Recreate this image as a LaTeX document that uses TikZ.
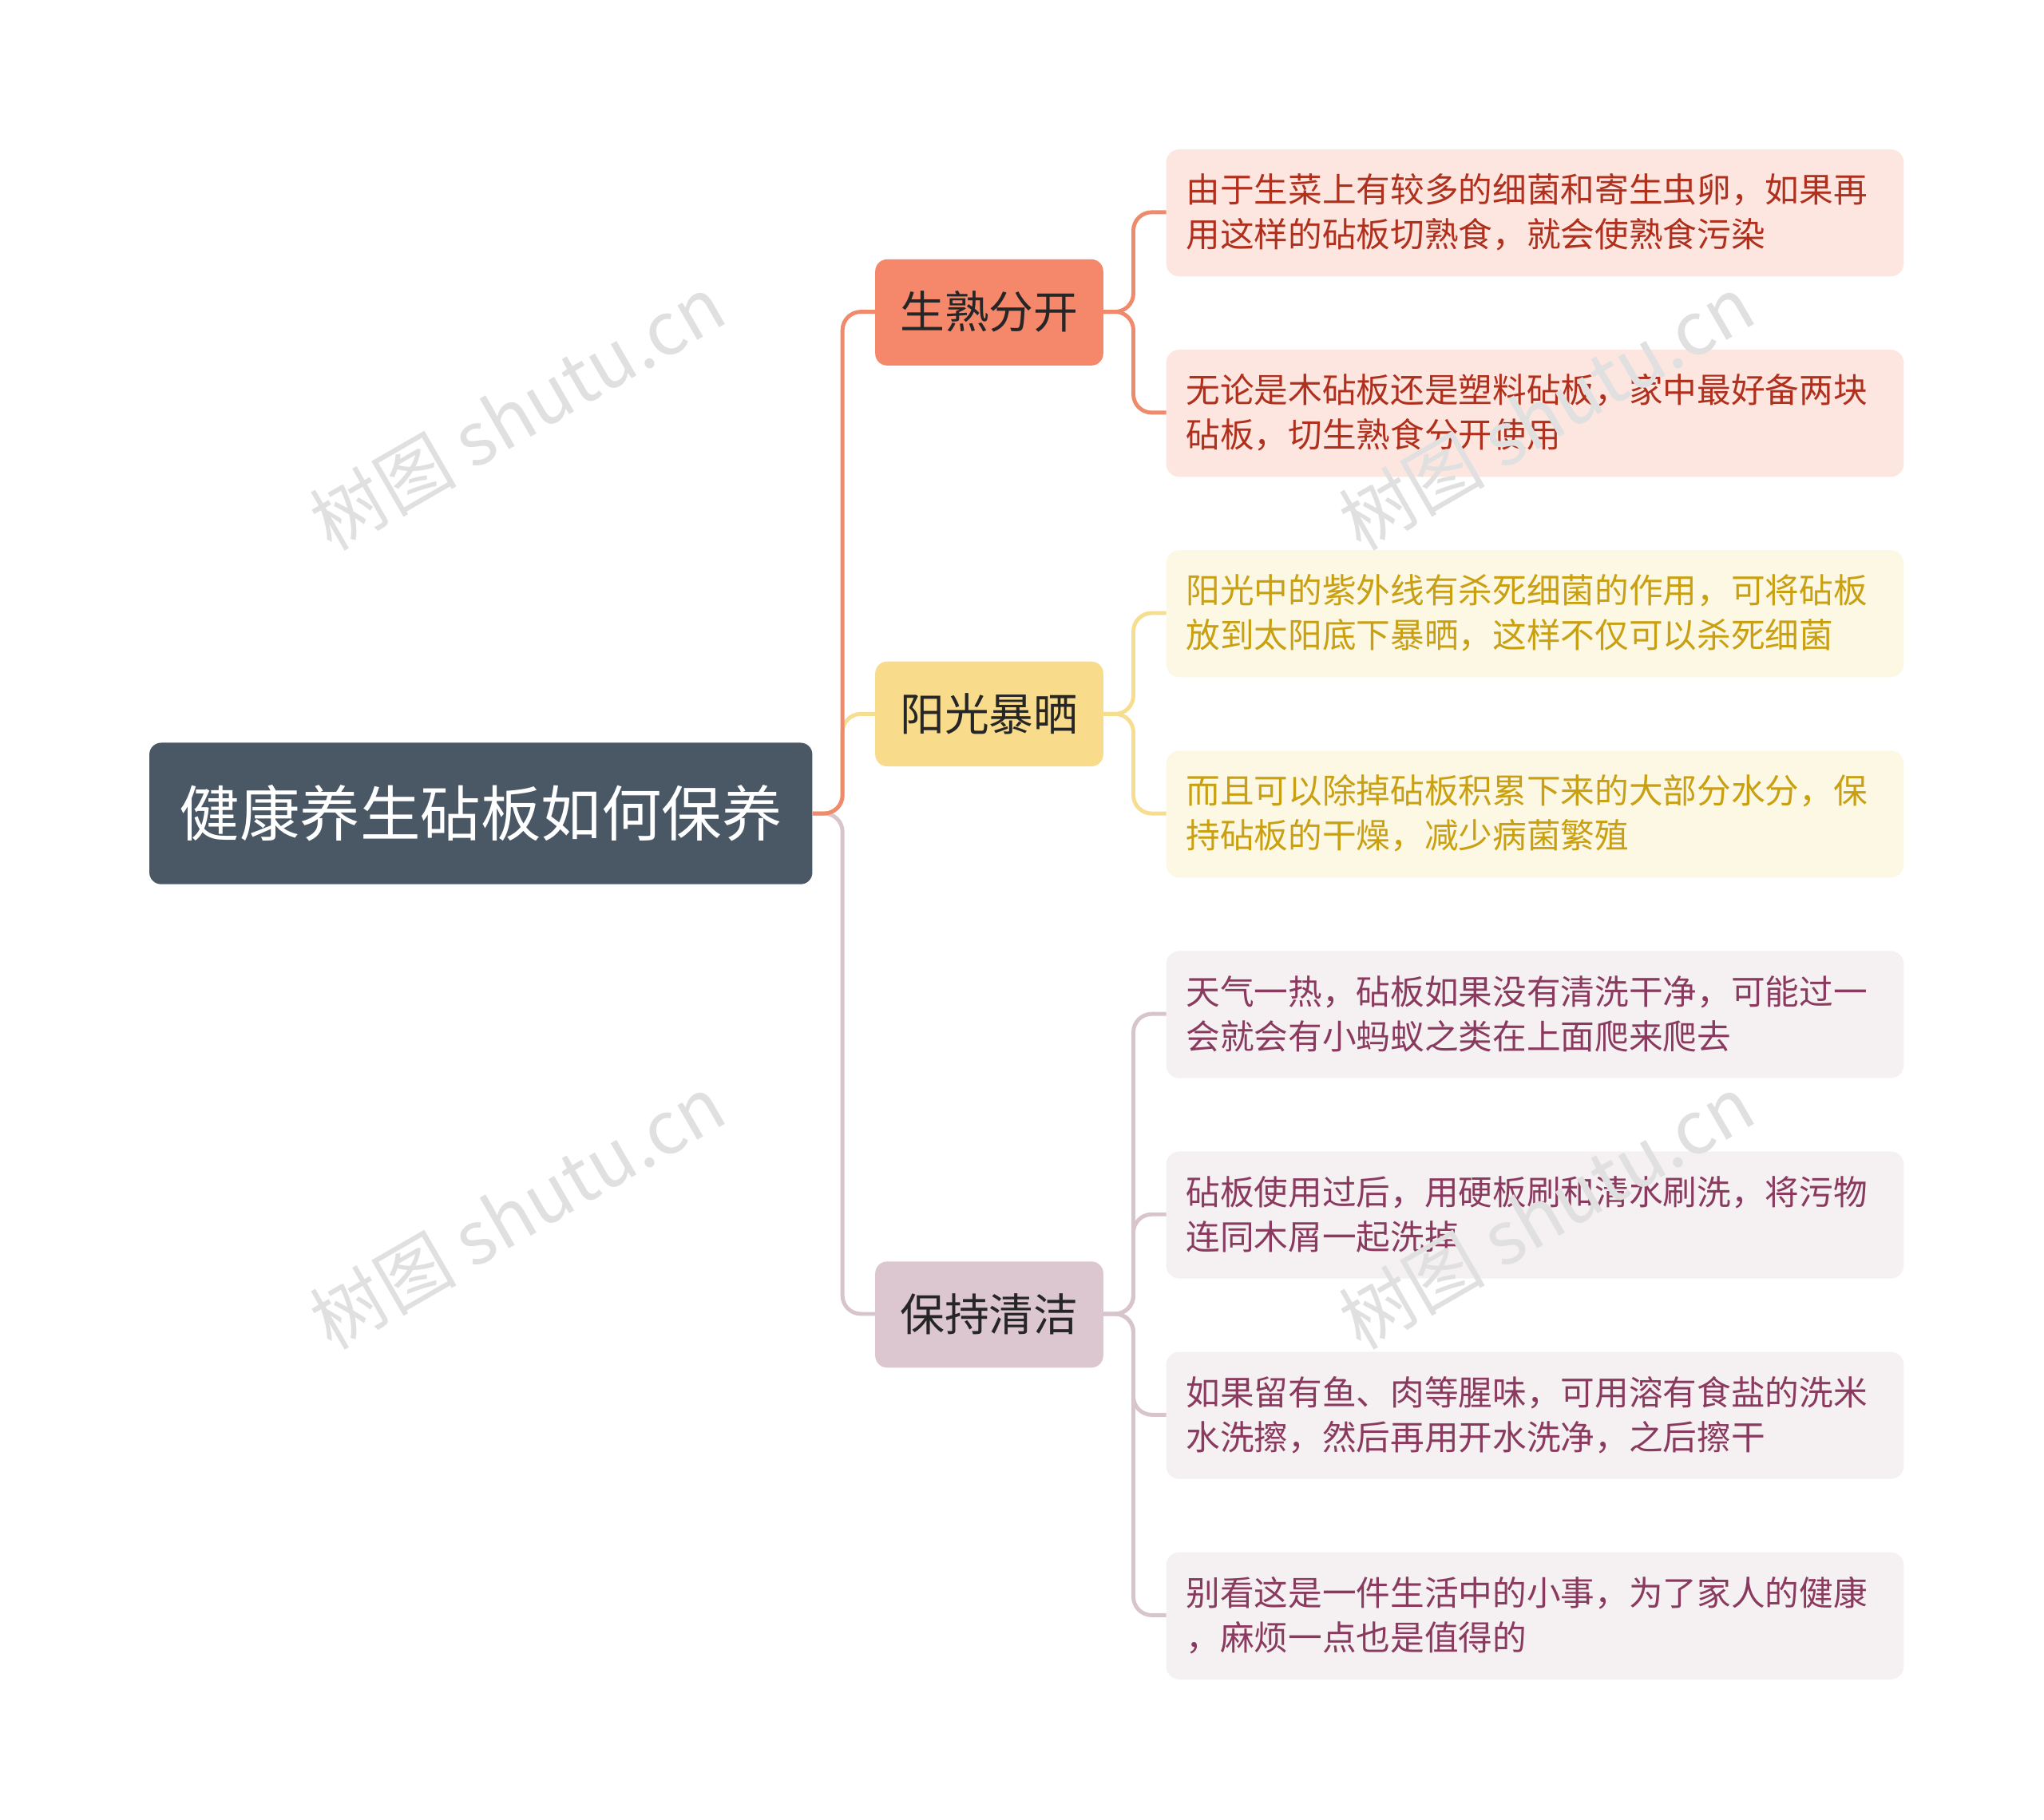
\documentclass[tikz,border=0pt]{standalone}
\usepackage{fontspec}
\setmainfont{Noto Sans CJK SC}
\begin{document}
\begin{tikzpicture}[x=1pt,y=-1pt,
 box/.style={rounded corners=9pt,inner sep=0pt},
 lf/.style={anchor=west,align=left,font=\fontsize{26}{34}\selectfont,inner sep=0pt},
 wm/.style={rotate=30,text=black!12,font=\fontsize{56}{60}\selectfont}]
\definecolor{rootc}{HTML}{4A5866}
\definecolor{ra}{HTML}{F5876A}\definecolor{rb}{HTML}{F8DC8C}\definecolor{rc}{HTML}{DCC6CF}
\definecolor{la}{HTML}{FDE6E0}\definecolor{lb}{HTML}{FDF8E4}\definecolor{lc}{HTML}{F5F0F2}
\definecolor{ta}{HTML}{B0301E}\definecolor{tb}{HTML}{C9A012}\definecolor{tc}{HTML}{8A3A5E}
\definecolor{lna}{HTML}{F08A6C}\definecolor{lnb}{HTML}{F6DE90}\definecolor{lnc}{HTML}{D8C4CC}
\useasboundingbox (0,0) rectangle (1560,1389);
% root
\fill[rootc,box] (114,567) rectangle (620,675);
\node[text=white,font=\fontsize{46}{50}\selectfont] (root) at (367,621) {健康养生砧板如何保养};
\coordinate (rr) at (620,621);
% branches
\fill[ra,box] (668,198) rectangle (842,279);
\fill[rb,box] (668,505) rectangle (842,585);
\fill[rc,box] (668,963) rectangle (842,1044);
\node[font=\fontsize{34}{38}\selectfont,text=black!85] (b1) at (755,238) {生熟分开};
\node[font=\fontsize{34}{38}\selectfont,text=black!85] (b2) at (755,545) {阳光暴晒};
\node[font=\fontsize{34}{38}\selectfont,text=black!85] (b3) at (755,1003) {保持清洁};
\coordinate (b1l) at (668,238);\coordinate (b1r) at (842,238);
\coordinate (b2l) at (668,545);\coordinate (b2r) at (842,545);
\coordinate (b3l) at (668,1003);\coordinate (b3r) at (842,1003);
\draw[lnc,line width=3pt,rounded corners=14pt] (rr) -- (643,621) |- (b3l);
\draw[lnb,line width=3pt,rounded corners=14pt] (rr) -- (643,621) |- (b2l);
\draw[lna,line width=3pt,rounded corners=14pt] (rr) -- (643,621) |- (b1l);
% leaves
\foreach \y/\f in {114/la,267/la,420/lb,573/lb,726/lc,879/lc,1032/lc,1185/lc}
  \fill[\f,rounded corners=10pt] (890,\y) rectangle (1453,\y+97);
\node[lf,text=ta] (l1) at (905,162) {由于生菜上有较多的细菌和寄生虫卵，如果再\\用这样的砧板切熟食，就会使熟食污染};
\node[lf,text=ta] (l2) at (905,315) {无论是木砧板还是塑料砧板，家中最好备两块\\砧板，切生熟食分开使用};
\node[lf,text=tb] (l3) at (905,468) {阳光中的紫外线有杀死细菌的作用，可将砧板\\放到太阳底下暴晒，这样不仅可以杀死细菌};
\node[lf,text=tb] (l4) at (905,621) {而且可以除掉砧板积累下来的大部分水分，保\\持砧板的干燥，减少病菌繁殖};
\node[lf,text=tc] (l5) at (905,774) {天气一热，砧板如果没有清洗干净，可能过一\\会就会有小蚂蚁之类在上面爬来爬去};
\node[lf,text=tc] (l6) at (905,927) {砧板使用过后，用硬板刷和清水刷洗，将污物\\连同木屑一起洗掉};
\node[lf,text=tc] (l7) at (905,1080) {如果留有鱼、肉等腥味，可用溶有食盐的洗米\\水洗擦，然后再用开水洗净，之后擦干};
\node[lf,text=tc] (l8) at (905,1233) {别看这是一件生活中的小事，为了家人的健康\\，麻烦一点也是值得的};
\foreach \b/\c/\ls in {b1r/lna/{162,315},b2r/lnb/{468,621},b3r/lnc/{774,927,1080,1233}}
  \foreach \t in \ls
    \draw[\c,line width=3pt,rounded corners=14pt] (\b) -- ++(23,0) |- (890,\t);
% watermarks
\foreach \p in {(395,315),(1180,315),(395,925),(1180,925)}
  \node[wm] at \p {树图 shutu.cn};
\end{tikzpicture}
\end{document}
